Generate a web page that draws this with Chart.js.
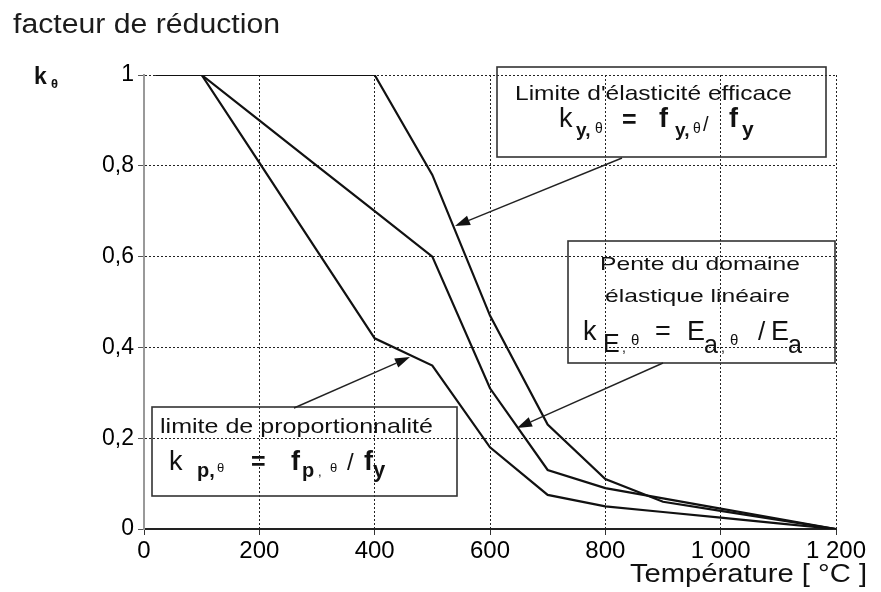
<!DOCTYPE html>
<html>
<head>
<meta charset="utf-8">
<script src="https://cdn.jsdelivr.net/npm/chart.js@4.4.1/dist/chart.umd.min.js"></script>
<style>
  html, body { margin: 0; padding: 0; background: #ffffff; }
  #wrap { width: 881px; height: 592px; }
</style>
</head>
<body>
<div id="wrap"><canvas id="c" width="881" height="592"></canvas></div>
<script>
// ---- data ----
const temperatures = [20, 100, 200, 300, 400, 500, 600, 700, 800, 900, 1000, 1100, 1200];
const kYield = [1, 1, 1, 1, 1, 0.78, 0.47, 0.23, 0.11, 0.06, 0.04, 0.02, 0];
const kElastic = [1, 1, 0.9, 0.8, 0.7, 0.6, 0.31, 0.13, 0.09, 0.0675, 0.045, 0.0225, 0];
const kProp = [1, 1, 0.807, 0.613, 0.42, 0.36, 0.18, 0.075, 0.05, 0.0375, 0.025, 0.0125, 0];
const xTickLabels = { 0: '0', 200: '200', 400: '400', 600: '600', 800: '800', 1000: '1 000', 1200: '1 200' };
const yTickLabels = { 0: '0', 0.2: '0,2', 0.4: '0,4', 0.6: '0,6', 0.8: '0,8', 1: '1' };

const FONT = '"Liberation Sans", Arial, Helvetica, sans-serif';

function series(vals) {
  return temperatures.map((t, i) => ({ x: t, y: vals[i] }));
}

function txt(ctx, str, x, y, size, opt) {
  opt = opt || {};
  ctx.save();
  ctx.font = (opt.bold ? 'bold ' : '') + size + 'px ' + FONT;
  ctx.fillStyle = opt.color || '#111';
  ctx.textAlign = 'left';
  ctx.textBaseline = 'alphabetic';
  const w = ctx.measureText(str).width;
  const sx = opt.width ? opt.width / w : (opt.sx || 1);
  ctx.translate(x, y);
  ctx.scale(sx, 1);
  ctx.fillText(str, 0, 0);
  ctx.restore();
}

function arrow(ctx, x1, y1, x2, y2) {
  ctx.save();
  ctx.strokeStyle = '#222';
  ctx.fillStyle = '#111';
  ctx.lineWidth = 1.4;
  const a = Math.atan2(y2 - y1, x2 - x1);
  const L = 15, W = 5;
  const bx = x2 - L * Math.cos(a), by = y2 - L * Math.sin(a);
  ctx.beginPath();
  ctx.moveTo(x1, y1);
  ctx.lineTo(bx, by);
  ctx.stroke();
  ctx.beginPath();
  ctx.moveTo(x2, y2);
  ctx.lineTo(bx + W * Math.sin(a), by - W * Math.cos(a));
  ctx.lineTo(bx - W * Math.sin(a), by + W * Math.cos(a));
  ctx.closePath();
  ctx.fill();
  ctx.restore();
}

function box(ctx, l, t, r, b) {
  ctx.save();
  ctx.strokeStyle = '#333';
  ctx.lineWidth = 1.6;
  ctx.strokeRect(l, t, r - l, b - t);
  ctx.restore();
}

const annotations = {
  id: 'annotations',
  afterDraw(chart) {
    const ctx = chart.ctx;
    // titles
    txt(ctx, 'facteur de réduction', 13, 33, 27, { width: 267, color: '#1c1c1c' });
    txt(ctx, 'k', 34, 84, 23, { bold: true });
    txt(ctx, 'θ', 51, 88, 13, { bold: true });
    txt(ctx, 'Température [ °C ]', 630, 582, 26, { width: 237 });

    // box 1 : limite d'élasticité efficace
    box(ctx, 497, 67, 826, 157);
    txt(ctx, "Limite d'élasticité efficace", 515, 100, 21, { width: 277 });
    txt(ctx, 'k', 559, 127, 27);
    txt(ctx, 'y,', 576, 136, 19, { bold: true });
    txt(ctx, 'θ', 595, 133, 14);
    txt(ctx, '=', 622, 128, 25, { bold: true });
    txt(ctx, 'f', 659, 127, 27, { bold: true });
    txt(ctx, 'y,', 675, 136, 19, { bold: true });
    txt(ctx, 'θ', 693, 133, 14);
    txt(ctx, '/', 703, 131, 20);
    txt(ctx, 'f', 729, 127, 27, { bold: true });
    txt(ctx, 'y', 742, 136, 21, { bold: true });
    arrow(ctx, 622, 158, 455, 226);

    // box 2 : pente du domaine élastique linéaire
    box(ctx, 568, 241, 835, 363);
    txt(ctx, 'Pente du domaine', 600, 270, 19, { width: 200 });
    txt(ctx, 'élastique linéaire', 605, 302, 19, { width: 185 });
    txt(ctx, 'k', 583, 340, 27);
    txt(ctx, 'E', 603, 352, 25);
    txt(ctx, ',', 622, 352, 14);
    txt(ctx, 'θ', 631, 345, 15);
    txt(ctx, '=', 655, 340, 27);
    txt(ctx, 'E', 687, 340, 27);
    txt(ctx, 'a', 704, 353, 25);
    txt(ctx, ',', 721, 352, 14);
    txt(ctx, 'θ', 730, 345, 15);
    txt(ctx, '/', 758, 340, 26);
    txt(ctx, 'E', 771, 340, 27);
    txt(ctx, 'a', 788, 353, 25);
    arrow(ctx, 663, 363, 517, 428);

    // box 3 : limite de proportionnalité
    box(ctx, 152, 407, 457, 496);
    txt(ctx, 'limite de proportionnalité', 160, 433, 21, { width: 273 });
    txt(ctx, 'k', 169, 470, 27);
    txt(ctx, 'p,', 197, 477, 20, { bold: true });
    txt(ctx, 'θ', 217, 472, 13);
    txt(ctx, '=', 251, 470, 25, { bold: true });
    txt(ctx, 'f', 291, 470, 27, { bold: true });
    txt(ctx, 'p', 302, 477, 20, { bold: true });
    txt(ctx, ',', 318, 476, 13);
    txt(ctx, 'θ', 330, 472, 13);
    txt(ctx, '/', 347, 470, 24);
    txt(ctx, 'f', 364, 470, 27, { bold: true });
    txt(ctx, 'y', 373, 477, 22, { bold: true });
    arrow(ctx, 294, 408, 410, 357);
  }
};

const lineStyle = { borderColor: '#111', borderWidth: 2.2, pointRadius: 0, tension: 0, fill: false };

new Chart(document.getElementById('c'), {
  type: 'line',
  data: {
    datasets: [
      Object.assign({ label: 'k_y,θ', data: series(kYield) }, lineStyle),
      Object.assign({ label: 'k_E,θ', data: series(kElastic) }, lineStyle),
      Object.assign({ label: 'k_p,θ', data: series(kProp) }, lineStyle)
    ]
  },
  options: {
    responsive: false,
    devicePixelRatio: 1,
    animation: false,
    layout: { padding: { left: 0, top: 75, right: 45, bottom: 0 } },
    plugins: { legend: { display: false }, tooltip: { enabled: false }, title: { display: false } },
    scales: {
      x: {
        type: 'linear',
        min: 0, max: 1200,
        afterFit(scale) { scale.height = 63; },
        ticks: {
          stepSize: 200,
          maxRotation: 0,
          autoSkip: false,
          color: '#000',
          padding: 2,
          font: { family: FONT, size: 24 },
          callback: v => (xTickLabels[v] !== undefined ? xTickLabels[v] : '')
        },
        grid: { color: '#222', lineWidth: 1, drawTicks: true, tickLength: 6, tickColor: '#333' },
        border: { display: true, color: '#222', width: 2, dash: [2, 2] }
      },
      y: {
        type: 'linear',
        min: 0, max: 1,
        afterFit(scale) { scale.width = 144; },
        ticks: {
          stepSize: 0.2,
          color: '#000',
          padding: 4,
          font: { family: FONT, size: 23 },
          callback: v => {
            const k = Math.round(v * 10) / 10;
            return yTickLabels[k] !== undefined ? yTickLabels[k] : '';
          }
        },
        grid: { color: '#222', lineWidth: 1, drawTicks: true, tickLength: 6, tickColor: '#555' },
        border: { display: true, color: '#999', width: 2, dash: [2, 2] }
      }
    }
  },
  plugins: [annotations]
});
</script>
</body>
</html>
